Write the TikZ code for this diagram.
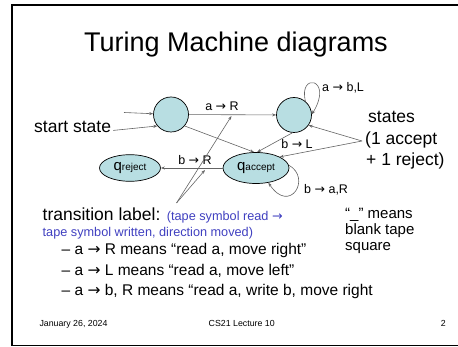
\documentclass[tikz,border=0pt]{standalone}
\usepackage{fontspec}
\setmainfont{Liberation Sans}
\newfontfamily\arrfont{DejaVu Sans}
\newcommand\rarr{{\arrfont →}}
\usetikzlibrary{arrows.meta,shapes.geometric}
\definecolor{statefill}{RGB}{184,222,226}
\definecolor{edgegray}{RGB}{100,100,100}
\definecolor{noteblue}{RGB}{64,64,192}
\newcommand\fsz[1]{\fontsize{#1}{#1}\selectfont}
\begin{document}
\begin{tikzpicture}[x=1pt,y=-1pt,
  state/.style={circle,draw=black,line width=0.7pt,fill=statefill,minimum size=35pt,inner sep=0pt},
  halt/.style={ellipse,draw=black,line width=0.7pt,fill=statefill,inner sep=0pt},
  edge/.style={draw=edgegray,line width=0.6pt,-{Stealth[length=4pt,width=3pt]}},
  lbl/.style={font=\fsz{12.5},inner sep=0pt},
  txt/.style={anchor=base west,inner sep=0pt}]
\useasboundingbox (0,0) rectangle (458,347);
\draw[line width=1.5pt] (458,5) -- (12,5) -- (12,345.5) -- (458,345.5);
\node[anchor=base,font=\fsz{27},inner sep=0pt] (title) at (236,52) {Turing Machine diagrams};
% states
\node[state] (c1) at (171,114.5) {};
\node[state] (c2) at (294,115) {};
\node[halt,minimum width=61pt,minimum height=26.6pt] (qr) at (130,168) {\fsz{15}q\fsz{10}reject};
\node[halt,minimum width=66pt,minimum height=31pt] (qa) at (256,168) {\fsz{15}q\fsz{10}accept};
% labels
\node[lbl] (lar) at (222,106) {a \rarr{} R};
\node[lbl,anchor=west] (lab) at (322,88) {a \rarr{} b,L};
\node[lbl] (lbl) at (297,144.3) {b \rarr{} L};
\node[lbl] (lbr) at (195,160) {b \rarr{} R};
\node[lbl,anchor=west] (lba) at (304,190) {b \rarr{} a,R};
% edges
\draw[edge] (c1) -- (c2);
\draw[edge] (c2.50) .. controls (298,72) and (334,78) .. (c2.2);
\draw[edge] (c1.-40) -- (qa.97);
\draw[edge] (c2.-95) -- (qa.86);
\draw[edge] (qa) -- (qr);
\draw[edge] (qa.5) .. controls (312,178) and (290,215) .. (qa.-50);
% start
\coordinate (s1) at (124,112.5);
\node[txt,font=\fsz{17.5}] (start) at (34,133) {start state};
\draw[edge] (s1) -- (c1);
\draw[edge] ([shift={(2,3)}]start.east) -- (c1.220);
% states annotation
\node[txt,font=\fsz{17.5}] (st1) at (368,123) {states};
\node[txt,font=\fsz{17.5}] (st2) at (365,144.5) {(1 accept};
\node[txt,font=\fsz{17.5}] (st3) at (366,166) {+ 1 reject)};
\coordinate (sp) at (362,141);
\draw[edge] (sp) -- (c2.-35);
\draw[edge] (sp) -- (qa.25);
% transition label pointers
\coordinate (tp) at (176.5,203);
\coordinate (ar1) at (231.5,116);
\coordinate (ar2) at (205,170);
\draw[edge] (tp) -- (ar1);
\draw[edge] (tp) -- (ar2);
% text
\node[txt,font=\fsz{17.5}] (tl) at (42.5,220.5) {transition label: {\color{noteblue}\fsz{12.7}(tape symbol read \rarr}};
\node[txt,font=\fsz{12.7},text=noteblue] (tl2) at (42.5,237) {tape symbol written, direction moved)};
\node[txt,font=\fsz{15.5}] (b1) at (61.5,255) {– a \rarr{} R means “read a, move right”};
\node[txt,font=\fsz{15.5}] (b2) at (61.5,275.5) {– a \rarr{} L means “read a, move left”};
\node[txt,font=\fsz{15.5}] (b3) at (61.5,296) {– a \rarr{} b, R means “read a, write b, move right};
\node[txt,font=\fsz{15}] (n1) at (345,218.5) {“\_” means};
\node[txt,font=\fsz{15}] (n2) at (345,234.5) {blank tape};
\node[txt,font=\fsz{15}] (n3) at (345,250.5) {square};
% footer
\node[txt,font=\fsz{8.8}] (f1) at (39.3,326.5) {January 26, 2024};
\node[anchor=base,inner sep=0pt,font=\fsz{8.8}] (f2) at (241.7,326.5) {CS21 Lecture 10};
\node[anchor=base east,inner sep=0pt,font=\fsz{8.8}] (f3) at (446,326.5) {2};
\end{tikzpicture}
\end{document}
